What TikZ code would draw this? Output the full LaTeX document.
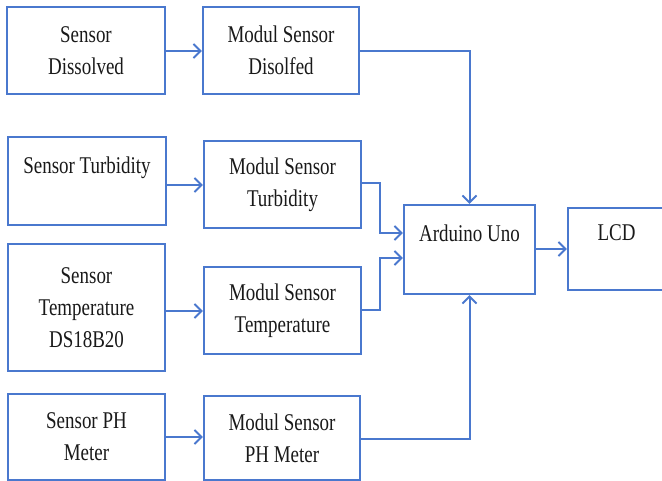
\documentclass[tikz,border=0pt]{standalone}
\usepackage{fontspec}
\setmainfont{Liberation Serif}[FakeStretch=0.79]
\usetikzlibrary{arrows.meta}
\definecolor{lineblue}{RGB}{74,120,206}
\definecolor{txtgray}{RGB}{25,25,25}
\tikzset{
  box/.style={draw=lineblue, line width=2.2pt, inner sep=0pt, align=center,
    text=txtgray, font=\fontsize{24}{32}\selectfont},
  conn/.style={draw=lineblue, line width=2pt,
    -{Straight Barb[length=7pt,width=14pt,line width=2pt]}},
}
\begin{document}
\begin{tikzpicture}[x=1pt,y=-1pt]
\useasboundingbox (0,0) rectangle (662,481);
\clip (0,0) rectangle (662,481);
% sensors
\node[box, minimum width=158pt, minimum height=87pt] (sd) at (86,50.5) {Sensor\\Dissolved};
\node[box, minimum width=158pt, minimum height=88pt] (st) at (87,181) {Sensor Turbidity\\\mbox{}};
\node[box, minimum width=157pt, minimum height=127pt] (stemp) at (86.5,307.5) {Sensor\\Temperature\\DS18B20};
\node[box, minimum width=157pt, minimum height=86pt] (sph) at (86.5,437) {Sensor PH\\Meter};
% modules
\node[box, minimum width=156pt, minimum height=87pt] (md) at (281,50.5) {Modul Sensor\\Disolfed};
\node[box, minimum width=157pt, minimum height=87pt] (mt) at (282.5,184.5) {Modul Sensor\\Turbidity};
\node[box, minimum width=157pt, minimum height=87pt] (mtemp) at (282.5,310.5) {Modul Sensor\\Temperature};
\node[box, minimum width=156pt, minimum height=84pt] (mph) at (282,438) {Modul Sensor\\PH Meter};
% arduino and lcd
\node[box, minimum width=131pt, minimum height=89pt] (ard) at (469.5,249.5) {Arduino Uno\\\mbox{}};
\node[box, minimum width=97pt, minimum height=82pt] (lcd) at (616.5,249) {LCD\\\mbox{}};
% sensor -> module
\draw[conn] (sd.east |- 0,51) -- (md.west |- 0,51);
\draw[conn] (st.east |- 0,185) -- (mt.west |- 0,185);
\draw[conn] (stemp.east |- 0,311) -- (mtemp.west |- 0,311);
\draw[conn] (sph.east |- 0,437) -- (mph.west |- 0,437);
% module -> arduino
\draw[conn] (md.east |- 0,51) -| (ard.north);
\draw[conn] (mt.east |- 0,183) -- (380,183) -- (380,233) -- (ard.west |- 0,233);
\draw[conn] (mtemp.east |- 0,310) -- (380,310) -- (380,258) -- (ard.west |- 0,258);
\draw[conn] (mph.east |- 0,439) -| (ard.south);
% arduino -> lcd
\draw[conn] (ard.east |- 0,249) -- (lcd.west |- 0,249);
\end{tikzpicture}
\end{document}
